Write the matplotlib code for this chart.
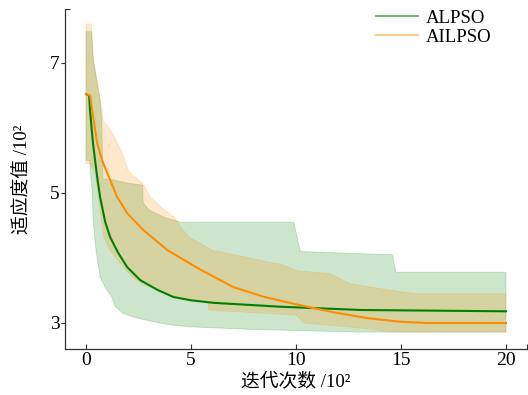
import matplotlib
matplotlib.use("Agg")
import matplotlib.pyplot as plt
from matplotlib.lines import Line2D
from matplotlib.ticker import FixedLocator

plt.rcParams['font.family'] = ['Liberation Serif', 'Noto Sans CJK SC']

# ---- data (x in units of 10^2 iterations, y in units of 10^2) ----
series_names = ["ALPSO", "AILPSO"]

alpso_x = [0.0, 0.15, 0.19, 0.33, 0.53, 0.67, 0.91, 1.15, 1.53, 1.96, 2.58, 3.4,
           4.16, 4.98, 6.08, 9.28, 13.1, 20.0]
alpso_y = [6.52, 6.5, 6.28, 5.77, 5.25, 4.94, 4.56, 4.32, 4.08, 3.86, 3.66, 3.51,
           3.4, 3.35, 3.31, 3.25, 3.2, 3.18]

ailpso_x = [0.0, 0.2, 0.29, 0.53, 0.77, 1.15, 1.48, 1.96, 2.73, 3.88, 5.45, 7.03,
            8.5, 10.1, 11.7, 13.3, 14.9, 16.2, 20.0]
ailpso_y = [6.52, 6.5, 6.28, 5.77, 5.5, 5.2, 4.94, 4.69, 4.43, 4.12, 3.82, 3.55,
            3.4, 3.28, 3.17, 3.08, 3.02, 3.0, 3.0]

alpso_up_x = [0.0, 0.27, 0.35, 0.51, 0.67, 0.75, 0.81, 1.3, 2.0, 2.7, 2.72, 3.0,
              3.7, 4.2, 4.5, 9.9, 10.2, 14.6, 14.75, 20.0]
alpso_up_y = [7.48, 7.48, 7.05, 6.74, 6.43, 6.12, 5.22, 5.2, 5.15, 5.12, 4.85, 4.74,
              4.63, 4.58, 4.55, 4.55, 4.1, 4.05, 3.78, 3.78]

alpso_lo_x = [0.0, 0.18, 0.2, 0.29, 0.35, 0.45, 0.53, 0.67, 0.91, 1.23, 1.39, 1.77,
              2.25, 3.2, 4.0, 5.0, 8.0, 13.0, 20.0]
alpso_lo_y = [5.5, 5.5, 5.35, 5.05, 4.55, 4.2, 4.0, 3.71, 3.55, 3.4, 3.25, 3.15,
              3.09, 3.02, 2.97, 2.94, 2.9, 2.86, 2.86]

ailpso_up_x = [0.0, 0.25, 0.33, 0.57, 0.77, 0.81, 1.05, 1.3, 1.72, 2.0, 2.2, 2.7,
               3.06, 3.7, 4.2, 4.5, 4.9, 5.3, 6.0, 7.8, 8.5, 9.3, 10.1, 11.6, 12.6,
               14.6, 15.7, 20.0]
ailpso_up_y = [7.6, 7.6, 7.08, 6.63, 6.28, 6.12, 6.02, 5.89, 5.62, 5.35, 5.28, 5.15,
               4.94, 4.74, 4.63, 4.48, 4.32, 4.25, 4.12, 4.0, 3.95, 3.9, 3.8, 3.76, 3.6,
               3.5, 3.45, 3.45]

ailpso_lo_x = [0.0, 0.2, 0.43, 0.57, 0.8, 0.85, 1.15, 1.63, 2.2, 2.6, 3.06, 3.5, 4.0,
               5.0, 5.8, 5.85, 8.5, 10.0, 10.4, 13.1, 14.7, 20.0]
ailpso_lo_y = [5.45, 5.45, 5.3, 5.0, 4.43, 4.32, 4.12, 3.92, 3.71, 3.62, 3.55, 3.51,
               3.43, 3.35, 3.33, 3.2, 3.15, 3.12, 3.0, 2.92, 2.86, 2.86]

x_ticks = [0, 5, 10, 15, 20]
y_ticks = [3, 5, 7]

# ---- figure ----
fig = plt.figure(figsize=(5.28, 3.95), dpi=100)
ax = fig.add_axes([65 / 528, 46 / 395, 462 / 528, 340 / 395])

green = 'green'
orange = 'darkorange'

ax.fill(alpso_up_x + alpso_lo_x[::-1], alpso_up_y + alpso_lo_y[::-1],
        color=green, alpha=0.2, lw=0.6, ec=(0.0, 0.5, 0.0, 0.15))
ax.fill(ailpso_up_x + ailpso_lo_x[::-1], ailpso_up_y + ailpso_lo_y[::-1],
        color=orange, alpha=0.2, lw=0.6, ec=(1.0, 0.55, 0.0, 0.15))

ax.plot(alpso_x, alpso_y, color=green, lw=1.5)
ax.plot(ailpso_x, ailpso_y, color=orange, lw=1.5)

ax.set_xlim(-1, 21)
ax.set_ylim(2.6, 7.83)
ax.set_xticks(x_ticks)
ax.set_yticks(y_ticks)
ax.xaxis.set_minor_locator(FixedLocator([21]))
ax.yaxis.set_minor_locator(FixedLocator([7.83]))

for s in ['top', 'right']:
    ax.spines[s].set_visible(False)
for s in ['left', 'bottom']:
    ax.spines[s].set_color('#333333')
    ax.spines[s].set_linewidth(0.9)

ax.tick_params(axis='x', which='both', direction='in', length=3.5, width=0.8,
               color='#333333', labelsize=14, pad=2)
ax.tick_params(axis='y', which='major', direction='out', length=3, width=0.8,
               color='#333333', labelsize=14, pad=1)
ax.tick_params(axis='y', which='minor', direction='in', length=3.5, width=0.8,
               color='#333333')

ax.set_xlabel('迭代次数 /10²', fontsize=13.5, labelpad=3)
ax.set_ylabel('适应度值 /10²', fontsize=13.5, labelpad=13)

handles = [Line2D([], [], color=green, alpha=0.55, lw=1.5),
           Line2D([], [], color=orange, alpha=0.45, lw=1.5)]
ax.legend(handles, series_names, loc='upper right', bbox_to_anchor=(0.94, 1.02),
          frameon=False, fontsize=13.5, handlelength=2.2, handletextpad=0.45,
          labelspacing=0.1, borderaxespad=0.0)

fig.savefig('out.png', dpi=100)
